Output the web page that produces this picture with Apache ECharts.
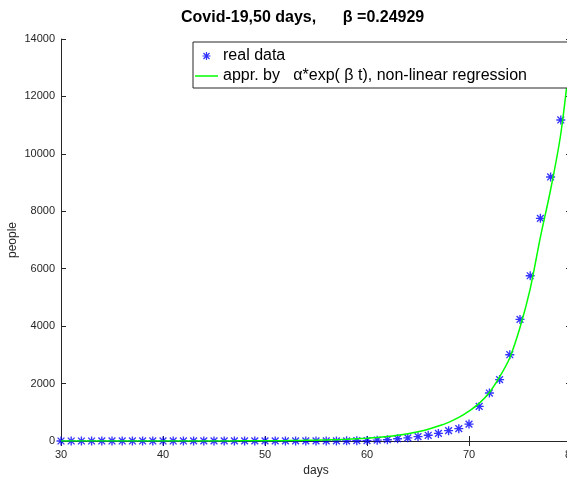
<!DOCTYPE html>
<html>
<head>
<meta charset="utf-8">
<script src="https://cdn.jsdelivr.net/npm/echarts@6.0.0/dist/echarts.min.js"></script>
<style>
    html, body { margin: 0; padding: 0; background: #fff; }
    #chart { width: 567px; height: 478px; }
</style>
</head>
<body>
<div id="chart"></div>
<script>
// days 30..79, cumulative cases
var realDays = [];
for (var d = 30; d <= 79; d++) realDays.push(d);
var realCases = [
    0, 0, 0, 0, 1, 1, 1, 1, 1, 1,
    1, 1, 1, 2, 2, 2, 2, 2, 2, 2,
    2, 2, 2, 2, 2, 2, 2, 3, 6, 13,
    15, 30, 45, 80, 110, 150, 200, 265, 360, 430,
    590, 1205, 1670, 2140, 3005, 4235, 5755, 7755, 9195, 11180
];

// fitted curve, days 30..80
var fitDays = [];
for (var d2 = 30; d2 <= 80; d2++) fitDays.push(d2);
var fitValues = [
    0, 0, 0, 0, 0, 0, 0, 0, 0, 1,
    1, 1, 1, 1, 2, 2, 3, 4, 5, 6,
    8, 10, 13, 17, 22, 28, 36, 46, 59, 76,
    95, 120, 155, 200, 255, 325, 410, 520, 650, 820,
    1040, 1310, 1690, 2230, 2900, 3950, 5300, 7100, 8750, 10700,
    13700
];

var xTicks = { min: 30, max: 80, interval: 10 };
var yTicks = { min: 0, max: 14000, interval: 2000 };

var starPath = 'path://M0 8.5L20 8.5L20 11.5L0 11.5Z M8.5 0L11.5 0L11.5 20L8.5 20Z ' +
    'M3.5 1.4L18.6 16.5L16.5 18.6L1.4 3.5Z M16.5 1.4L18.6 3.5L3.5 18.6L1.4 16.5Z';
var linePath = 'path://M0 0L23 0L23 1.5L0 1.5Z';

var axisColor = '#262626';
var font = '"Liberation Sans", Arial, Helvetica, sans-serif';
var fitName = 'appr. by   \u03b1*exp( \u03b2 t), non-linear regression';

function pairs(xs, ys) {
    var out = [];
    for (var i = 0; i < xs.length; i++) out.push([xs[i], ys[i]]);
    return out;
}

function plain(v) { return String(v); }

function xAxisOf(pos, showLabel) {
    return {
        type: 'value', position: pos,
        min: xTicks.min, max: xTicks.max, interval: xTicks.interval,
        name: showLabel ? 'days' : '',
        nameLocation: 'middle', nameGap: 24, nameMoveOverlap: false,
        nameTextStyle: { color: axisColor, fontSize: 12, fontFamily: font },
        axisLine: { show: true, lineStyle: { color: axisColor, width: 1 } },
        axisTick: { show: true, inside: true, length: 5, lineStyle: { color: axisColor } },
        axisLabel: { show: showLabel, color: axisColor, fontSize: 11, fontFamily: font, margin: 8, formatter: plain },
        splitLine: { show: false }
    };
}

function yAxisOf(pos, showLabel) {
    return {
        type: 'value', position: pos,
        min: yTicks.min, max: yTicks.max, interval: yTicks.interval,
        name: showLabel ? 'people' : '',
        nameLocation: 'middle', nameGap: 42, nameMoveOverlap: false,
        nameTextStyle: { color: axisColor, fontSize: 12, fontFamily: font },
        axisLine: { show: true, lineStyle: { color: axisColor, width: 1 } },
        axisTick: { show: true, inside: true, length: 5, lineStyle: { color: axisColor } },
        axisLabel: { show: showLabel, color: axisColor, fontSize: 11, fontFamily: font, margin: 6, formatter: plain },
        splitLine: { show: false }
    };
}

var myChart = echarts.init(document.getElementById('chart'));

myChart.setOption({
    animation: false,
    backgroundColor: '#fff',
    title: {
        text: 'Covid-19,50 days,      \u03b2 =0.24929',
        left: 181, top: 10,
        padding: 0,
        textStyle: { fontSize: 16, fontWeight: 'bold', color: '#000', fontFamily: font }
    },
    grid: { left: 61, top: 39, right: -4, bottom: 37, outerBoundsMode: 'none', containLabel: false },
    xAxis: [xAxisOf('bottom', true), xAxisOf('top', false)],
    yAxis: [yAxisOf('left', true), yAxisOf('right', false)],
    legend: {
        orient: 'vertical',
        left: 193, top: 42,
        padding: [6, 60, 4, 2],
        itemWidth: 23, itemHeight: 8, itemGap: 4,
        backgroundColor: '#fff',
        borderColor: axisColor, borderWidth: 1,
        textStyle: { fontSize: 16, color: '#000', fontFamily: font },
        data: [
            { name: 'real data', icon: starPath },
            { name: fitName, icon: linePath }
        ]
    },
    series: [
        {
            name: 'real data',
            type: 'scatter',
            symbol: starPath,
            symbolSize: 9,
            itemStyle: { color: '#0000ff' },
            data: pairs(realDays, realCases)
        },
        {
            name: fitName,
            type: 'line',
            symbol: 'none',
            smooth: 0.3,
            lineStyle: { color: '#00ff00', width: 1.5 },
            itemStyle: { color: '#00ff00' },
            data: pairs(fitDays, fitValues)
        }
    ]
});
</script>
</body>
</html>
